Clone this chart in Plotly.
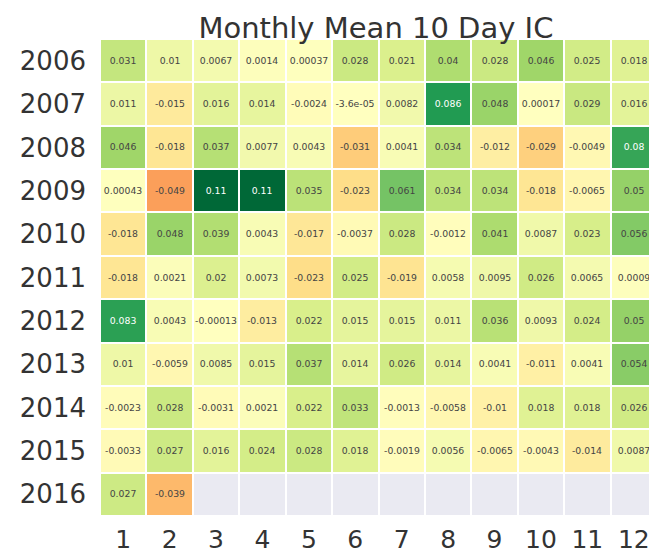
import plotly.graph_objects as go

years = ["2006", "2007", "2008", "2009", "2010", "2011", "2012", "2013", "2014", "2015", "2016"]
months = ["1", "2", "3", "4", "5", "6", "7", "8", "9", "10", "11", "12"]

nan = None
ic_2006 = [0.031, 0.01, 0.0067, 0.0014, 0.00037, 0.028, 0.021, 0.04, 0.028, 0.046, 0.025, 0.018]
ic_2007 = [0.011, -0.015, 0.016, 0.014, -0.0024, -3.6e-05, 0.0082, 0.086, 0.048, 0.00017, 0.029, 0.016]
ic_2008 = [0.046, -0.018, 0.037, 0.0077, 0.0043, -0.031, 0.0041, 0.034, -0.012, -0.029, -0.0049, 0.08]
ic_2009 = [0.00043, -0.049, 0.11, 0.11, 0.035, -0.023, 0.061, 0.034, 0.034, -0.018, -0.0065, 0.05]
ic_2010 = [-0.018, 0.048, 0.039, 0.0043, -0.017, -0.0037, 0.028, -0.0012, 0.041, 0.0087, 0.023, 0.056]
ic_2011 = [-0.018, 0.0021, 0.02, 0.0073, -0.023, 0.025, -0.019, 0.0058, 0.0095, 0.026, 0.0065, 0.0009]
ic_2012 = [0.083, 0.0043, -0.00013, -0.013, 0.022, 0.015, 0.015, 0.011, 0.036, 0.0093, 0.024, 0.05]
ic_2013 = [0.01, -0.0059, 0.0085, 0.015, 0.037, 0.014, 0.026, 0.014, 0.0041, -0.011, 0.0041, 0.054]
ic_2014 = [-0.0023, 0.028, -0.0031, 0.0021, 0.022, 0.033, -0.0013, -0.0058, -0.01, 0.018, 0.018, 0.026]
ic_2015 = [-0.0033, 0.027, 0.016, 0.024, 0.028, 0.018, -0.0019, 0.0056, -0.0065, -0.0043, -0.014, 0.0087]
ic_2016 = [0.027, -0.039, nan, nan, nan, nan, nan, nan, nan, nan, nan, nan]

z = [ic_2006, ic_2007, ic_2008, ic_2009, ic_2010, ic_2011,
     ic_2012, ic_2013, ic_2014, ic_2015, ic_2016]

# labels like matplotlib's .2g, empty where no data
text = [["" if v is None else format(v, ".2g") for v in row] for row in z]
# mask for missing months (drawn as grey cells)
missing = [[1 if v is None else None for v in row] for row in z]

vmax = 0.11

fig = go.Figure()

fig.add_trace(go.Heatmap(
    z=missing, x=months, y=years,
    colorscale=[[0, "#eaeaf2"], [1, "#eaeaf2"]],
    showscale=False, xgap=2, ygap=2, hoverinfo="skip"
))

fig.add_trace(go.Heatmap(
    z=z, x=months, y=years,
    colorscale="RdYlGn", zmin=-vmax, zmax=vmax,
    showscale=False, xgap=2, ygap=2,
    text=text, texttemplate="%{text}",
    textfont=dict(family="DejaVu Sans", size=9.3),
    hovertemplate="%{y}-%{x}: %{z}<extra></extra>"
))

fig.update_layout(
    width=657, height=555,
    margin=dict(l=92, r=8, t=31, b=47),
    paper_bgcolor="white",
    plot_bgcolor="white",
    font=dict(family="DejaVu Sans", color="#262626"),
    title=dict(text="Monthly Mean 10 Day IC", x=0.56, xanchor="center",
               y=0.964, yanchor="middle", font=dict(size=29, color="#333333")),
)

fig.update_xaxes(type="category", showgrid=False, zeroline=False, ticks="",
                 automargin=False, ticklabelstandoff=6,
                 tickfont=dict(size=25, color="#333333"))
fig.update_yaxes(type="category", autorange="reversed", showgrid=False, zeroline=False,
                 ticks="", automargin=False, ticklabelstandoff=13,
                 tickfont=dict(size=26, color="#333333"))

fig.write_html("out.html")
